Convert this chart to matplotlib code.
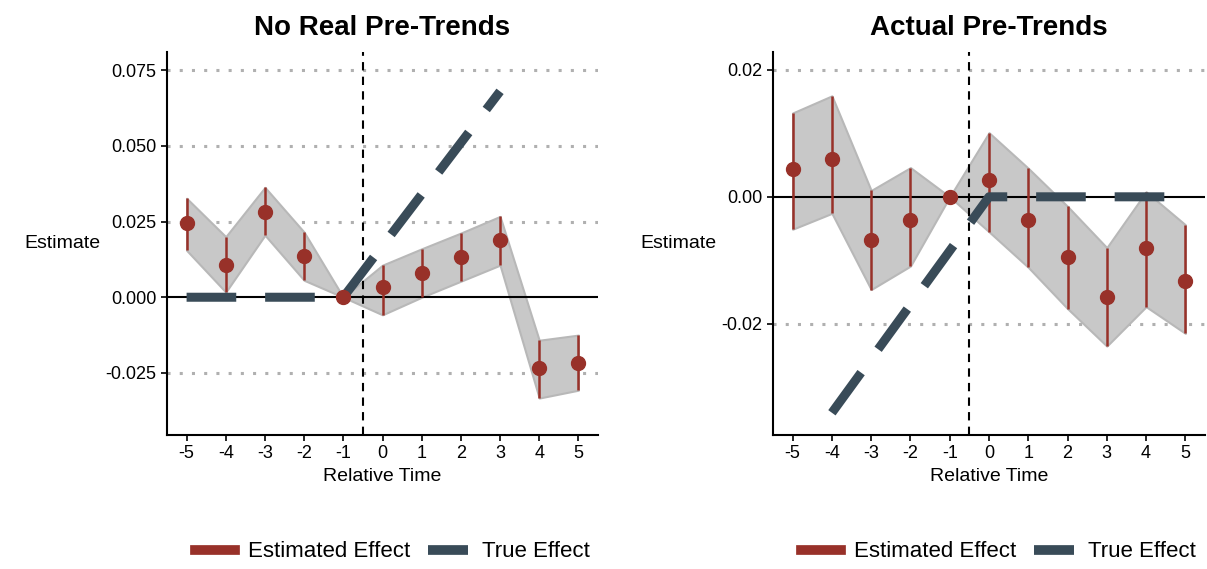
import matplotlib.pyplot as plt
import numpy as np
from matplotlib.lines import Line2D

plt.rcParams['font.family'] = ['Liberation Sans', 'DejaVu Sans']

rel_time = np.arange(-5, 6)
nan = np.nan

# left panel: no real pre-trends
est_a = [0.0245, 0.0106, 0.0282, 0.0136, 0.0, 0.0033, 0.0081, 0.0134, 0.0188, -0.0233, -0.0217]
lo_a = [0.0155, 0.0017, 0.0205, 0.0056, 0.0, -0.0058, 0.0000, 0.0053, 0.0106, -0.0333, -0.0307]
hi_a = [0.0327, 0.0200, 0.0363, 0.0215, 0.0, 0.0106, 0.0160, 0.0212, 0.0267, -0.0142, -0.0125]
true_a = [0, 0, 0, 0, 0, 0.017, 0.034, 0.051, 0.068, nan, nan]  # out-of-range values dropped

# right panel: actual pre-trends
est_b = [0.0044, 0.0060, -0.0068, -0.0036, 0.0, 0.0027, -0.0036, -0.0094, -0.0157, -0.0080, -0.0133]
lo_b = [-0.0051, -0.0026, -0.0146, -0.0109, 0.0, -0.0055, -0.0111, -0.0176, -0.0235, -0.0173, -0.0215]
hi_b = [0.0132, 0.0159, 0.0010, 0.0046, 0.0, 0.0101, 0.0045, -0.0015, -0.0080, 0.0008, -0.0044]
true_b = [nan, -0.034, -0.0255, -0.017, -0.0085, 0, 0, 0, 0, 0, 0]

RED = '#983129'
DARK = '#394B58'

fig = plt.figure(figsize=(12.07, 5.69), dpi=100)


def panel(rect, title, est, lo, hi, true, yticks, ylabels, ylim, leg_x):
    ax = fig.add_axes(rect)
    ax.fill_between(rel_time, lo, hi, color='#c8c8c8', edgecolor='#b8b8b8', lw=1.5, zorder=1)
    for y in yticks:
        if y == 0:
            ax.axhline(0, color='black', lw=1.5, zorder=2)
        else:
            ax.axhline(y, color='#b0b0b0', lw=2.2, ls=(0, (1, 3)), zorder=0)
    ax.axvline(-0.5, color='black', lw=1.5, ls=(0, (4, 3)), zorder=2)
    ax.vlines(rel_time, lo, hi, color=RED, lw=1.8, zorder=3)
    ax.plot(rel_time, est, 'o', color=RED, ms=10, zorder=4)
    ax.plot(rel_time, true, color=DARK, lw=6.5, ls=(0, (5.5, 3.2)), zorder=3)
    ax.set_xlim(-5.5, 5.5)
    ax.set_ylim(*ylim)
    ax.set_xticks(rel_time)
    ax.set_xticklabels([str(t) for t in rel_time])
    ax.set_yticks(yticks)
    ax.set_yticklabels(ylabels)
    ax.tick_params(labelsize=13, length=4, width=1.2)
    for s in ['top', 'right']:
        ax.spines[s].set_visible(False)
    for s in ['left', 'bottom']:
        ax.spines[s].set_linewidth(1.5)
    ax.set_xlabel('Relative Time', fontsize=14)
    ax.set_ylabel('Estimate', fontsize=14, rotation=0, ha='right', va='center')
    ax.set_title(title, fontsize=20, fontweight='bold', pad=12)
    handles = [Line2D([], [], color=RED, lw=7),
               Line2D([], [], color=DARK, lw=7, ls=(0, (5, 2)))]
    fig.legend(handles, ['Estimated Effect', 'True Effect'], loc='center',
               bbox_to_anchor=(leg_x, 0.03), ncol=2, frameon=False, fontsize=16,
               handlelength=1.8, columnspacing=0.8, handletextpad=0.6)
    return ax


panel([167 / 1207, 134 / 569, 431 / 1207, 383 / 569], 'No Real Pre-Trends',
      est_a, lo_a, hi_a, true_a,
      [-0.025, 0, 0.025, 0.05, 0.075], ['-0.025', '0.000', '0.025', '0.050', '0.075'],
      (-0.0455, 0.081), 0.325)
panel([773 / 1207, 134 / 569, 432 / 1207, 383 / 569], 'Actual Pre-Trends',
      est_b, lo_b, hi_b, true_b,
      [-0.02, 0, 0.02], ['-0.02', '0.00', '0.02'],
      (-0.0375, 0.0228), 0.827)

fig.savefig('out.png', dpi=100)
